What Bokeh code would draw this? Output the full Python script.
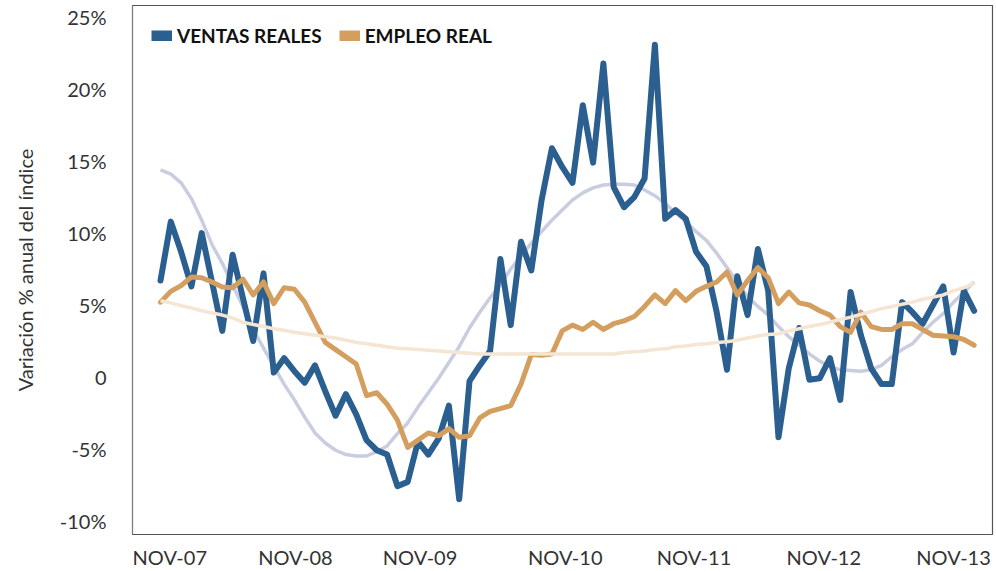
from bokeh.plotting import figure
from bokeh.models import FixedTicker, Legend, LegendItem, Range1d
from bokeh.embed import file_html
from bokeh.resources import INLINE

# ---- data ----
x_labels = ["NOV-07", "NOV-08", "NOV-09", "NOV-10", "NOV-11", "NOV-12", "NOV-13"]
y_ticks = [-10, -5, 0, 5, 10, 15, 20, 25]
y_tick_labels = ["-10%", "-5%", "0", "5%", "10%", "15%", "20%", "25%"]

ventas_reales = [6.7, 10.8, 8.7, 6.3, 10.0, 6.6, 3.2, 8.5, 5.5, 2.5,
                 7.2, 0.3, 1.3, 0.4, -0.4, 0.8, -1.0, -2.7, -1.2, -2.6,
                 -4.4, -5.1, -5.4, -7.6, -7.3, -4.5, -5.4, -4.3, -2.0, -8.5,
                 -0.3, 0.8, 1.8, 8.2, 3.6, 9.4, 7.4, 12.3, 15.9, 14.6,
                 13.5, 18.9, 14.9, 21.8, 13.2, 11.8, 12.5, 13.8, 23.1, 11.0,
                 11.6, 11.0, 8.7, 7.7, 4.5, 0.5, 7.0, 4.3, 8.9, 6.0,
                 -4.2, 0.6, 3.4, -0.2, -0.1, 1.3, -1.6, 5.9, 2.9, 0.6,
                 -0.5, -0.5, 5.2, 4.5, 3.7, 5.0, 6.3, 1.7, 6.0, 4.6]

empleo_real = [5.2, 5.95, 6.35, 6.95, 6.9, 6.6, 6.25, 6.2, 6.8, 5.7,
               6.6, 5.1, 6.2, 6.1, 5.2, 3.8, 2.4, 1.9, 1.4, 0.9,
               -1.3, -1.1, -1.9, -3.0, -4.9, -4.4, -3.9, -4.1, -3.6, -4.2,
               -4.1, -2.85, -2.4, -2.2, -2.0, -0.5, 1.55, 1.5, 1.6, 3.2,
               3.6, 3.3, 3.8, 3.3, 3.7, 3.9, 4.2, 4.9, 5.7, 5.1,
               6.0, 5.3, 5.95, 6.3, 6.6, 7.3, 5.7, 6.7, 7.6, 6.9,
               5.1, 5.9, 5.15, 5.0, 4.6, 4.3, 3.5, 3.1, 4.5, 3.5,
               3.3, 3.3, 3.7, 3.7, 3.3, 2.9, 2.85, 2.8, 2.6, 2.2]

tendencia_ventas = [14.4, 14.1, 13.5, 12.4, 10.9, 9.2, 7.9, 6.4, 4.9, 3.3,
                    2.0, 0.75, -0.5, -1.6, -2.8, -3.9, -4.6, -5.1, -5.4, -5.5,
                    -5.5, -5.2, -4.8, -3.95, -3.2, -2.1, -1.1, -0.1, 1.0, 2.1,
                    3.4, 4.5, 5.5, 6.4, 7.5, 8.4, 9.3, 10.1, 10.9, 11.6,
                    12.3, 12.8, 13.15, 13.35, 13.4, 13.4, 13.35, 13.0, 12.6, 12.05,
                    11.4, 10.8, 10.1, 9.5, 8.6, 7.6, 6.6, 5.6, 4.9, 4.3,
                    3.5, 2.8, 2.2, 1.6, 1.1, 0.7, 0.5, 0.45, 0.4, 0.5,
                    0.8, 1.4, 1.9, 2.3, 3.1, 3.8, 4.4, 5.2, 5.9, 6.6]

tendencia_empleo = [5.3, 5.15, 4.95, 4.8, 4.6, 4.45, 4.3, 4.1, 3.8, 3.65,
                    3.5, 3.35, 3.25, 3.1, 3.0, 2.9, 2.8, 2.7, 2.55, 2.4,
                    2.3, 2.2, 2.1, 2.0, 1.95, 1.9, 1.85, 1.8, 1.75, 1.7,
                    1.65, 1.6, 1.6, 1.6, 1.6, 1.6, 1.6, 1.6, 1.6, 1.6,
                    1.6, 1.6, 1.6, 1.6, 1.6, 1.7, 1.75, 1.8, 1.9, 1.95,
                    2.1, 2.15, 2.25, 2.3, 2.4, 2.45, 2.55, 2.7, 2.85, 2.95,
                    3.0, 3.2, 3.35, 3.5, 3.65, 3.8, 4.0, 4.15, 4.35, 4.55,
                    4.75, 4.9, 5.05, 5.2, 5.4, 5.55, 5.7, 6.0, 6.2, 6.5]

# ---- layout / style ----
label_pos = [0.9, 13.1, 25.2, 39.3, 51.8, 64.4, 77.0]
BLUE = "#2B5F8F"
TAN = "#D49E5E"
LAV = "#CACDE0"
PEACH = "#F5E5D3"
FONT = "Lato"
TXT = "#333333"

p = figure(width=994, height=571, output_backend="svg", toolbar_location=None,
           x_range=Range1d(-2.72, 80.78), y_range=Range1d(-10.96, 25.83),
           min_border_left=132, min_border_right=2, min_border_top=5, min_border_bottom=0)
p.grid.visible = False
p.outline_line_color = "#555555"
p.outline_line_width = 1.2
p.background_fill_color = "white"
p.border_fill_color = "white"

xa = p.xaxis[0]
xa.ticker = FixedTicker(ticks=label_pos)
xa.major_label_overrides = {pos: lab for pos, lab in zip(label_pos, x_labels)}
xa.axis_line_color = "#555555"
xa.major_tick_line_color = None
xa.minor_tick_line_color = None
xa.major_label_text_font = FONT
xa.major_label_text_font_size = "20px"
xa.major_label_text_color = TXT
xa.major_label_text_line_height = 1.0
xa.major_label_standoff = 4

ya = p.yaxis[0]
ya.ticker = FixedTicker(ticks=y_ticks)
ya.major_label_overrides = {t: lab for t, lab in zip(y_ticks, y_tick_labels)}
ya.axis_line_color = "#7a7a7a"
ya.major_tick_line_color = None
ya.minor_tick_line_color = None
ya.major_label_text_font = FONT
ya.major_label_text_font_size = "20px"
ya.major_label_text_color = TXT
ya.major_label_standoff = 20
ya.axis_label = "Variación % anual del índice"
ya.axis_label_text_font = FONT
ya.axis_label_text_font_size = "20px"
ya.axis_label_text_font_style = "normal"
ya.axis_label_text_color = TXT
ya.axis_label_standoff = 20

idx_v = list(range(len(ventas_reales)))
idx_e = list(range(len(empleo_real)))
idx_tv = list(range(len(tendencia_ventas)))
idx_te = list(range(len(tendencia_empleo)))

p.line(idx_tv, tendencia_ventas, line_color=LAV, line_width=3.5, line_join="round")
p.line(idx_v, ventas_reales, line_color=BLUE, line_width=6, line_join="round", line_cap="round")
p.line(idx_e, empleo_real, line_color=TAN, line_width=5, line_join="round", line_cap="round")
p.line(idx_te, tendencia_empleo, line_color=PEACH, line_width=3.5, line_join="round")

# legend keys: hidden copies of the two series, drawn in the legend as solid blocks
k1 = p.line(idx_v, ventas_reales, line_color=BLUE, line_width=11, line_cap="butt", visible=False)
k2 = p.line(idx_e, empleo_real, line_color=TAN, line_width=11, line_cap="butt", visible=False)

legend = Legend(items=[LegendItem(label="VENTAS REALES", renderers=[k1]),
                       LegendItem(label="EMPLEO REAL", renderers=[k2])],
                orientation="horizontal", location="top_left",
                glyph_width=21, glyph_height=11, label_standoff=5, spacing=17,
                padding=0, margin=19, inactive_fill_alpha=0,
                label_text_font=FONT, label_text_font_style="bold",
                label_text_font_size="19px", label_text_color="#111111",
                background_fill_alpha=0, border_line_color=None)
p.add_layout(legend)

open("out.html", "w").write(file_html(p, INLINE, title="chart"))
